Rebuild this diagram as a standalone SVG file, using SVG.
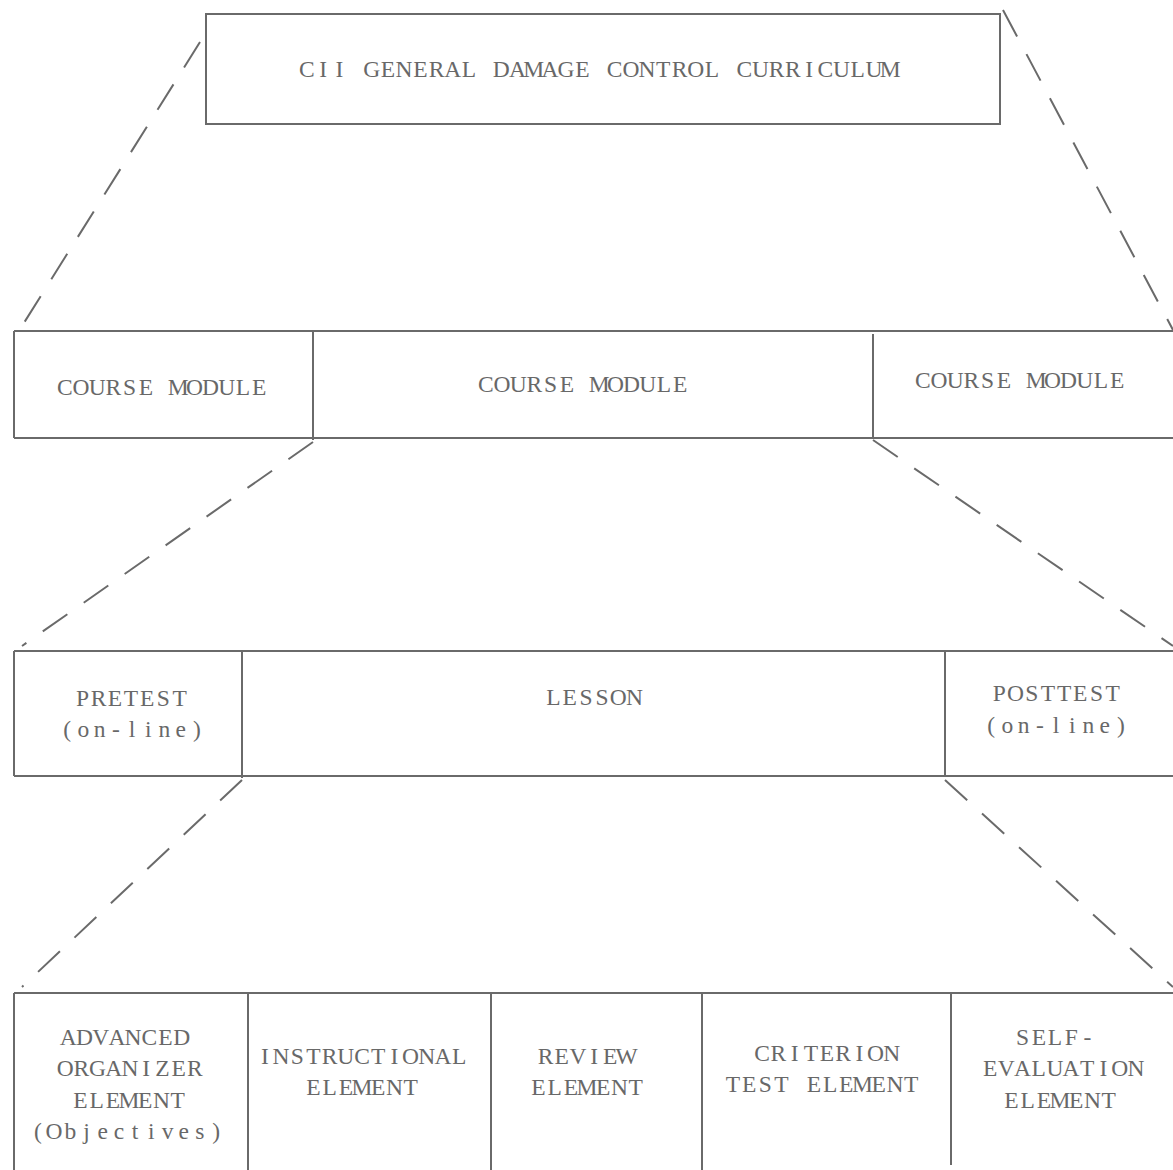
<svg xmlns="http://www.w3.org/2000/svg" width="1173" height="1170" viewBox="0 0 1173 1170">
<style>
.box{fill:none;stroke:#6a6a6a;stroke-width:2}
.t{font-family:"Liberation Serif","DejaVu Serif",serif;font-size:23.5px;fill:#686868;text-anchor:middle}
.d{stroke:#6a6a6a;stroke-width:2;stroke-dasharray:30 20;fill:none}
</style>
<rect width="1173" height="1170" fill="#ffffff"/>
<g id="connectors">
<line class="d" x1="200" y1="42" x2="22" y2="326"/>
<line class="d" x1="1003" y1="10" x2="1173" y2="330"/>
<line class="d" x1="313" y1="442" x2="22" y2="646"/>
<line class="d" x1="873" y1="440" x2="1173" y2="646"/>
<line class="d" x1="242" y1="780" x2="22" y2="987"/>
<line class="d" x1="945" y1="780" x2="1173" y2="987"/>
</g>
<g id="curriculum">
<rect class="box" x="206" y="14" width="794" height="110"/>
<text class="t" transform="translate(598.5,77)" x="-291.6 -275.4 -259.2 -243 -226.8 -210.6 -194.4 -178.2 -162 -145.8 -129.6 -113.4 -97.2 -81 -64.8 -48.6 -32.4 -16.2 0 16.2 32.4 48.6 64.8 81 97.2 113.4 129.6 145.8 162 178.2 194.4 210.6 226.8 243 259.2 275.4 291.6" y="0">CII GENERAL DAMAGE CONTROL CURRICULUM</text>
</g>
<g id="module-row">
<line class="box" x1="14" y1="331" x2="1173" y2="331"/>
<line class="box" x1="14" y1="438" x2="1173" y2="438"/>
<line class="box" x1="14" y1="331" x2="14" y2="438"/>
</g>
<g id="module1">
<line class="box" x1="313" y1="331" x2="313" y2="440"/>
<text class="t" transform="translate(162,395)" x="-97.2 -81 -64.8 -48.6 -32.4 -16.2 0 16.2 32.4 48.6 64.8 81 97.2" y="0">COURSE MODULE</text>
</g>
<g id="module2">
<text class="t" transform="translate(583,392)" x="-97.2 -81 -64.8 -48.6 -32.4 -16.2 0 16.2 32.4 48.6 64.8 81 97.2" y="0">COURSE MODULE</text>
</g>
<g id="module3">
<line class="box" x1="873" y1="334" x2="873" y2="438"/>
<text class="t" transform="translate(1020,388)" x="-97.2 -81 -64.8 -48.6 -32.4 -16.2 0 16.2 32.4 48.6 64.8 81 97.2" y="0">COURSE MODULE</text>
</g>
<g id="lesson-row">
<line class="box" x1="14" y1="651" x2="1173" y2="651"/>
<line class="box" x1="14" y1="776" x2="1173" y2="776"/>
<line class="box" x1="14" y1="651" x2="14" y2="776"/>
</g>
<g id="pretest">
<line class="box" x1="242" y1="651" x2="242" y2="778"/>
<text class="t" transform="translate(131,706)" x="-48.6 -32.4 -16.2 0 16.2 32.4 48.6" y="0">PRETEST</text>
<text class="t" transform="translate(132,737)" x="-64.8 -48.6 -32.4 -16.2 0 16.2 32.4 48.6 64.8" y="0">(on-line)</text>
</g>
<g id="lesson">
<text class="t" transform="translate(594,705)" x="-40.5 -24.3 -8.1 8.1 24.3 40.5" y="0">LESSON</text>
</g>
<g id="posttest">
<line class="box" x1="945" y1="651" x2="945" y2="776"/>
<text class="t" transform="translate(1056,701)" x="-56.7 -40.5 -24.3 -8.1 8.1 24.3 40.5 56.7" y="0">POSTTEST</text>
<text class="t" transform="translate(1056,733)" x="-64.8 -48.6 -32.4 -16.2 0 16.2 32.4 48.6 64.8" y="0">(on-line)</text>
</g>
<g id="element-row">
<line class="box" x1="14" y1="993" x2="1173" y2="993"/>
<line class="box" x1="14" y1="993" x2="14" y2="1170"/>
</g>
<g id="advanced-organizer">
<line class="box" x1="248" y1="993" x2="248" y2="1170"/>
<text class="t" transform="translate(125,1045)" x="-56.7 -40.5 -24.3 -8.1 8.1 24.3 40.5 56.7" y="0">ADVANCED</text>
<text class="t" transform="translate(130,1076)" x="-64.8 -48.6 -32.4 -16.2 0 16.2 32.4 48.6 64.8" y="0">ORGANIZER</text>
<text class="t" transform="translate(129,1108)" x="-48.6 -32.4 -16.2 0 16.2 32.4 48.6" y="0">ELEMENT</text>
<text class="t" transform="translate(127,1139)" x="-89.1 -72.9 -56.7 -40.5 -24.3 -8.1 8.1 24.3 40.5 56.7 72.9 89.1" y="0">(Objectives)</text>
</g>
<g id="instructional">
<line class="box" x1="491" y1="993" x2="491" y2="1170"/>
<text class="t" transform="translate(362,1064)" x="-97.2 -81 -64.8 -48.6 -32.4 -16.2 0 16.2 32.4 48.6 64.8 81 97.2" y="0">INSTRUCTIONAL</text>
<text class="t" transform="translate(362,1095)" x="-48.6 -32.4 -16.2 0 16.2 32.4 48.6" y="0">ELEMENT</text>
</g>
<g id="review">
<line class="box" x1="702" y1="993" x2="702" y2="1170"/>
<text class="t" transform="translate(586,1064)" x="-40.5 -24.3 -8.1 8.1 24.3 40.5" y="0">REVIEW</text>
<text class="t" transform="translate(587,1095)" x="-48.6 -32.4 -16.2 0 16.2 32.4 48.6" y="0">ELEMENT</text>
</g>
<g id="criterion">
<line class="box" x1="951" y1="993" x2="951" y2="1165"/>
<text class="t" transform="translate(827,1061)" x="-64.8 -48.6 -32.4 -16.2 0 16.2 32.4 48.6 64.8" y="0">CRITERION</text>
<text class="t" transform="translate(822,1092)" x="-89.1 -72.9 -56.7 -40.5 -24.3 -8.1 8.1 24.3 40.5 56.7 72.9 89.1" y="0">TEST ELEMENT</text>
</g>
<g id="self-evaluation">
<text class="t" transform="translate(1055,1045)" x="-32.4 -16.2 0 16.2 32.4" y="0">SELF-</text>
<text class="t" transform="translate(1063,1076)" x="-72.9 -56.7 -40.5 -24.3 -8.1 8.1 24.3 40.5 56.7 72.9" y="0">EVALUATION</text>
<text class="t" transform="translate(1060,1108)" x="-48.6 -32.4 -16.2 0 16.2 32.4 48.6" y="0">ELEMENT</text>
</g>
</svg>
